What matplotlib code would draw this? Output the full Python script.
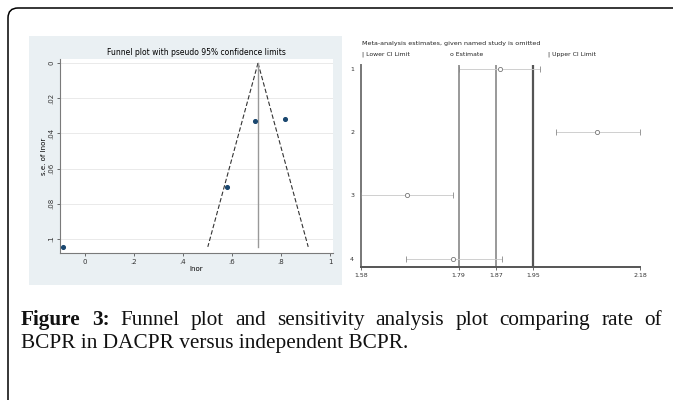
import numpy as np
import matplotlib
matplotlib.use("Agg")
import matplotlib.pyplot as plt
from matplotlib.patches import FancyBboxPatch, Rectangle
from matplotlib.transforms import IdentityTransform

# funnel plot data (lnor, s.e. of lnor)
lnor = [-0.09, 0.58, 0.694, 0.816]
se_lnor = [0.1045, 0.0705, 0.033, 0.032]
pooled = 0.706
se_max = 0.1045

# sensitivity analysis (study omitted)
studies = [1, 2, 3, 4]
est = [1.879, 2.087, 1.678, 1.778]
lower = [1.79, 1.999, 1.58, 1.676]
upper = [1.965, 2.18, 1.778, 1.883]
ref_lines = [1.79, 1.87, 1.95]
xticks_r = [1.58, 1.79, 1.87, 1.95, 2.18]

caption1 = "Funnel plot and sensitivity analysis plot comparing rate of"
caption2 = "BCPR in DACPR versus independent BCPR."

W, H = 673, 400
fig = plt.figure(figsize=(W / 100, H / 100), dpi=100)
fig.patch.set_facecolor("white")

def px(x0, y0, x1, y1):
    # pixel box (top-left origin) -> figure fraction rect
    return [x0 / W, (H - y1) / H, (x1 - x0) / W, (y1 - y0) / H]

# outer frame
frame = FancyBboxPatch((8, -30), 720, 422, boxstyle="round,pad=0,rounding_size=10",
                       transform=IdentityTransform(), fill=False, ec="black", lw=1.1)
fig.patches.append(frame)

# left panel background
fig.patches.append(Rectangle((29 / W, (H - 285) / H), 313 / W, 249 / H,
                             transform=fig.transFigure, fc="#eaf0f3", ec="none",
                             zorder=-10))

sans = "DejaVu Sans"
gray = "#7a7a7a"

# ---- funnel plot ----
ax = fig.add_axes(px(60, 59, 333, 253))
ax.set_facecolor("white")
ax.set_xlim(-0.102, 1.012)
ax.set_ylim(0.108, -0.0023)
for s in ["top", "right"]:
    ax.spines[s].set_visible(False)
for s in ["left", "bottom"]:
    ax.spines[s].set_color(gray)
    ax.spines[s].set_linewidth(0.8)
ax.set_yticks([0, 0.02, 0.04, 0.06, 0.08, 0.1])
ax.set_yticklabels(["0", ".02", ".04", ".06", ".08", ".1"], rotation=90, va="center")
ax.set_xticks([0, 0.2, 0.4, 0.6, 0.8, 1])
ax.set_xticklabels(["0", ".2", ".4", ".6", ".8", "1"])
ax.tick_params(labelsize=5, colors="#333333", length=2, width=0.5, pad=2)
ax.grid(axis="y", color="#e6e6e6", lw=0.6)
ax.set_axisbelow(True)
se_line = np.array([0, se_max])
ax.plot(pooled - 1.96 * se_line, se_line, ls=(0, (4, 2)), color="#333333", lw=0.8)
ax.plot(pooled + 1.96 * se_line, se_line, ls=(0, (4, 2)), color="#333333", lw=0.8)
ax.plot([pooled, pooled], [0, se_max], color="#999999", lw=1.0)
ax.scatter(lnor, se_lnor, s=7, color="#1a476f", zorder=3)
ax.set_xlabel("lnor", fontsize=5, labelpad=1, family=sans)
ax.set_ylabel("s.e. of lnor", fontsize=5, labelpad=1, family=sans)
ax.set_title("Funnel plot with pseudo 95% confidence limits", fontsize=5.5, pad=3, family=sans)

# ---- sensitivity plot ----
bx = fig.add_axes(px(361, 65, 640, 267))
bx.set_xlim(1.58, 2.18)
bx.set_ylim(4.13, 0.94)
for s in ["top", "right"]:
    bx.spines[s].set_visible(False)
bx.spines["left"].set_color("#777777")
bx.spines["left"].set_linewidth(1.4)
bx.spines["bottom"].set_color("#555555")
bx.spines["bottom"].set_linewidth(1.4)
bx.set_xticks(xticks_r)
bx.set_xticklabels([f"{v:.2f}" for v in xticks_r])
bx.set_yticks(studies)
bx.tick_params(labelsize=4.5, colors="#333333", length=2, width=0.5, pad=2)
bx.tick_params(axis="y", length=0, pad=5)
for v in ref_lines:
    bx.axvline(v, color="#555555" if v == 1.95 else "#888888",
               lw=1.6 if v == 1.95 else 1.2, zorder=1)
bx.hlines(studies, lower, upper, color="#c8c8c8", lw=0.6, zorder=2)
bx.scatter(lower, studies, marker="|", s=14, color="#888888", lw=0.6, zorder=3)
bx.scatter(upper, studies, marker="|", s=14, color="#888888", lw=0.6, zorder=3)
bx.scatter(est, studies, marker="o", s=9, facecolor="white", edgecolor="#777777",
           lw=0.6, zorder=3)

fig.text(362 / W, 1 - 43 / H, "Meta-analysis estimates, given named study is omitted",
         fontsize=4.6, va="center", family=sans, color="#222222")
for xp, lab in [(362, "| Lower CI Limit"), (450, "o Estimate"), (548, "| Upper CI Limit")]:
    fig.text(xp / W, 1 - 54 / H, lab, fontsize=4.4, va="center", family=sans, color="#222222")

# ---- caption (first line justified) ----
serif = ["Liberation Serif", "DejaVu Serif"]
cap_size = 15.3
renderer = fig.canvas.get_renderer()
words = [("Figure", "bold"), ("3:", "bold")] + [(w, "normal") for w in caption1.split()]
texts = []
for w, wt in words:
    t = fig.text(0, 1 - 325 / H, w, fontsize=cap_size, fontweight=wt, family=serif,
                 va="baseline", color="#111111")
    texts.append(t)
widths = [t.get_window_extent(renderer).width for t in texts]
x_left, x_right = 21, 662
gap = (x_right - x_left - sum(widths)) / (len(texts) - 1)
xc = x_left
for t, wd in zip(texts, widths):
    t.set_x(xc / W)
    xc += wd + gap
fig.text(21 / W, 1 - 348 / H, caption2, fontsize=cap_size, family=serif,
         va="baseline", color="#111111")

fig.savefig("out.png", dpi=100)
